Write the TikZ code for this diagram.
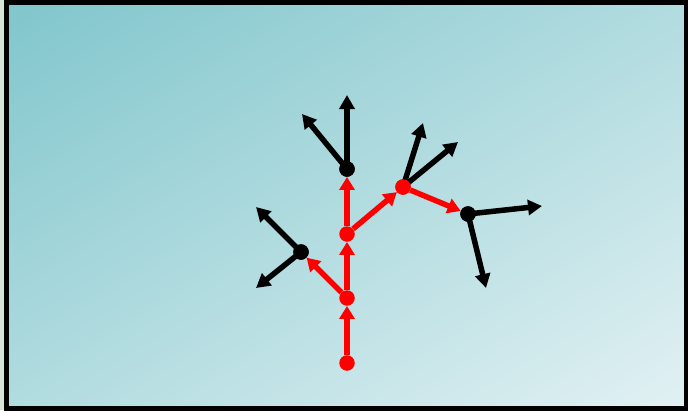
\documentclass[tikz,border=0pt]{standalone}
\usetikzlibrary{arrows.meta}
\definecolor{bgdark}{HTML}{80C6CC}
\definecolor{bglight}{HTML}{E2F1F3}
\definecolor{edgered}{HTML}{FF0000}
\definecolor{strip}{HTML}{D6E4D8}
\tikzset{
  reddot/.style={circle,fill=edgered,inner sep=0pt,minimum size=15.5pt},
  blackdot/.style={circle,fill=black,inner sep=0pt,minimum size=15.5pt},
  treeedge/.style={-{Triangle[length=13pt,width=15pt]},line width=5.5pt,draw=edgered},
  branch/.style={-{Triangle[length=14pt,width=15pt]},line width=5.5pt,draw=black}
}
\begin{document}
\begin{tikzpicture}[x=1pt,y=-1pt]
  \useasboundingbox (0,0) rectangle (688,410);
  \fill[strip] (0,0) rectangle (688,410);
  \begin{scope}
    \clip (6,3) rectangle (686,408);
    \shade[top color=bgdark,bottom color=bglight,
      transform canvas={rotate around={31:(346,205)}}]
      (-54,-144) rectangle (746,554);
  \end{scope}
  \draw[line width=5pt] (6,2.5) rectangle (686,408);
  % tree nodes
  \node[reddot] (root) at (347,363) {};
  \node[reddot] (low) at (347,298) {};
  \node[reddot] (mid) at (347,234) {};
  \node[blackdot] (top) at (347,169) {};
  \node[blackdot] (left) at (301,252) {};
  \node[reddot] (right) at (403,187) {};
  \node[blackdot] (far) at (468,214) {};
  % arrow ends
  \coordinate (topup) at (347,95);
  \coordinate (topleft) at (302,114);
  \coordinate (leftup) at (256,207);
  \coordinate (leftdown) at (256,288);
  \coordinate (rightup) at (423,123);
  \coordinate (rightout) at (458,142);
  \coordinate (farright) at (542,206);
  \coordinate (fardown) at (486,288);
  % black branches
  \draw[branch] (top.center) -- (topup);
  \draw[branch] (top.center) -- (topleft);
  \draw[branch] (left.center) -- (leftup);
  \draw[branch] (left.center) -- (leftdown);
  \draw[branch] (right.center) -- (rightup);
  \draw[branch] (right.center) -- (rightout);
  \draw[branch] (far.center) -- (farright);
  \draw[branch] (far.center) -- (fardown);
  \node[blackdot] at (top) {};
  \node[blackdot] at (left) {};
  \node[blackdot] at (far) {};
  \node[reddot] at (right) {};
  % red tree
  \draw[treeedge] (root) -- (low);
  \draw[treeedge] (low) -- (mid);
  \draw[treeedge] (mid) -- (top);
  \draw[treeedge] (low) -- (left);
  \draw[treeedge] (mid) -- (right);
  \draw[treeedge] (right) -- (far);
\end{tikzpicture}
\end{document}
